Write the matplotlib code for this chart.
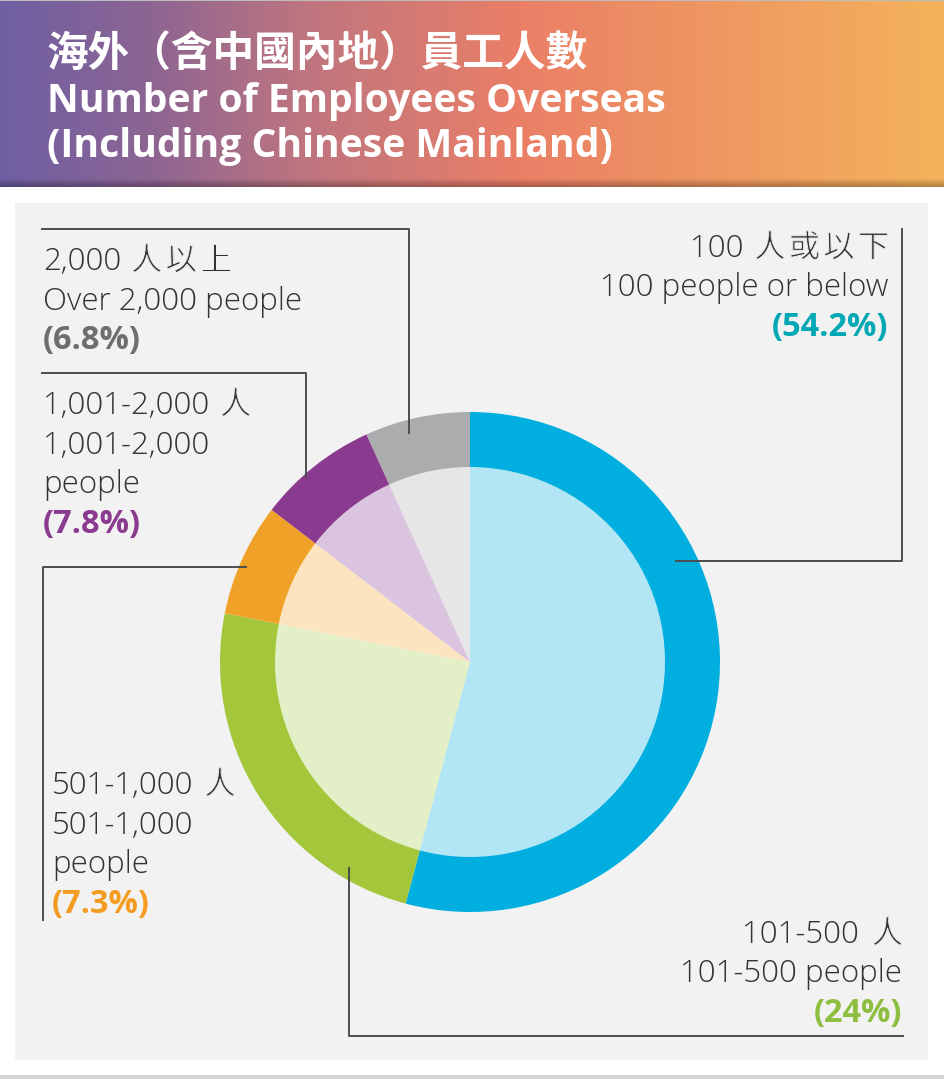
import matplotlib
matplotlib.use("Agg")
import matplotlib.pyplot as plt
import matplotlib.patches as patches
import matplotlib.patheffects as pe
import numpy as np
from matplotlib.colors import LinearSegmentedColormap

# data
shares = [54.2, 24.0, 7.3, 7.8, 6.8]
pct_labels = ["(54.2%)", "(24%)", "(7.3%)", "(7.8%)", "(6.8%)"]
# chinese label split into (number part, chinese part)
zh_labels = [("100", "人或以下"), ("101-500", "人"), ("501-1,000", "人"),
             ("1,001-2,000", "人"), ("2,000", "人以上")]
en_labels = [["100 people or below"], ["101-500 people"], ["501-1,000", "people"],
             ["1,001-2,000", "people"], ["Over 2,000 people"]]

outer_colors = ["#00aedf", "#a3c63b", "#f0a128", "#8a3b8f", "#abacae"]
inner_colors = ["#b3e6f5", "#e3efc6", "#fde4c0", "#dbc4df", "#e6e6e6"]
pct_colors = ["#00a7b5", "#8dbe3f", "#f39c21", "#8a3b8f", "#6d6e70"]

W, H = 944, 1079
fig = plt.figure(figsize=(W / 100, H / 100), dpi=100)
ax = fig.add_axes([0, 0, 1, 1])
ax.set_xlim(0, W)
ax.set_ylim(0, H)
renderer = fig.canvas.get_renderer()

def Y(y):
    return H - y

font = ["Open Sans", "Noto Sans CJK TC", "DejaVu Sans"]
txt_col = "#333333"
panel_col = "#f2f2f2"
fs = 22.5

# header with gradient
grad_cmap = LinearSegmentedColormap.from_list(
    "hdr", [(0, "#6f5fa3"), (0.16, "#8d6592"), (0.32, "#be7580"),
            (0.55, "#ea7f67"), (1.0, "#f4b35b")])
grad = np.linspace(0, 1, 400).reshape(1, -1)
ax.imshow(grad, cmap=grad_cmap, aspect="auto", extent=[0, W, Y(187), Y(1)], zorder=1)
for i in range(8):
    ax.add_patch(patches.Rectangle((0, Y(187)), W, 8 - i, color="black",
                                   alpha=0.035, lw=0, zorder=2))
ax.add_patch(patches.Rectangle((0, Y(1)), W, 1, color="#bdbdbd", lw=0, zorder=2))

# panel
ax.add_patch(patches.Rectangle((15, Y(1060)), 913, 857, color=panel_col, lw=0, zorder=0))
ax.add_patch(patches.Rectangle((0, 0), W, 4, color="#d4d4d4", lw=0, zorder=0))

# title
ax.text(47, Y(67), "海外（含中國內地）員工人數", color="white", fontsize=30,
        fontweight="bold", family=font, va="baseline", ha="left", zorder=3)
for line, base in zip(["Number of Employees Overseas", "(Including Chinese Mainland)"],
                      [112, 157]):
    ax.text(47, Y(base), line, color="white", fontsize=28.2, fontweight="bold",
            family=font, va="baseline", ha="left", zorder=3)

# pie: outer ring and inner light pie
cx, cy = 470, Y(662)
ax.pie(shares, colors=outer_colors, startangle=90, counterclock=False,
       center=(cx, cy), radius=250, frame=True,
       wedgeprops=dict(width=56, linewidth=0))
ax.pie(shares, colors=inner_colors, startangle=90, counterclock=False,
       center=(cx, cy), radius=195, frame=True,
       wedgeprops=dict(linewidth=0))

# leader lines
lc = "#4d4d4d"
lw = 1.4
leaders = [
    [(676, 561), (902, 561), (902, 229)],
    [(349, 868), (349, 1036), (903, 1036)],
    [(246, 567), (43, 567), (43, 920)],
    [(306, 477), (306, 373), (42, 373)],
    [(409, 433), (409, 229), (42, 229)],
]
for pts in leaders:
    xs = [p[0] for p in pts]
    ys = [Y(p[1]) for p in pts]
    ax.plot(xs, ys, color=lc, lw=lw, zorder=4)

# thin the cjk glyphs a bit by stroking their outline in the panel colour
thin = [pe.Normal(), pe.Stroke(linewidth=0.7, foreground=panel_col)]
cjk_step = 34.5
cjk_half = 14.5


def mixed_line(x, y, num, zh, ha, gap):
    t1 = ax.text(0, y, num, color=txt_col, fontsize=fs, fontweight="light",
                 family=font, ha="left", va="baseline", zorder=5)
    w1 = t1.get_window_extent(renderer).width
    n = len(zh)
    if ha == "left":
        t1.set_x(x)
        first = x + w1 + gap + cjk_half
    else:
        first = x - cjk_half - (n - 1) * cjk_step
        t1.set_x(first - cjk_half - gap - w1)
    for k, ch in enumerate(zh):
        ax.text(first + k * cjk_step, y, ch, color=txt_col, fontsize=fs,
                fontweight="light", family=font, ha="center", va="baseline",
                zorder=5, path_effects=thin)


# labels: (x, first baseline, alignment, gap before chinese)
label_pos = [(888, 257, "right", 12), (902, 943, "right", 14),
             (52, 794, "left", 12), (43, 414, "left", 12), (43, 270, "left", 11)]
step = 39.5
for i in range(len(shares)):
    x, b, ha, gap = label_pos[i]
    mixed_line(x, Y(b), zh_labels[i][0], zh_labels[i][1], ha, gap)
    for j, line in enumerate(en_labels[i]):
        ax.text(x, Y(b + (j + 1) * step), line, color=txt_col, fontsize=fs,
                fontweight="light", family=font, ha=ha, va="baseline", zorder=5)
    ax.text(x, Y(b + (len(en_labels[i]) + 1) * step), pct_labels[i],
            color=pct_colors[i], fontsize=23.5, fontweight="bold", family=font,
            ha=ha, va="baseline", zorder=5)

ax.set_xlim(0, W)
ax.set_ylim(0, H)
ax.set_aspect("auto")
ax.axis("off")

fig.savefig("out.png", dpi=100, facecolor="white")
